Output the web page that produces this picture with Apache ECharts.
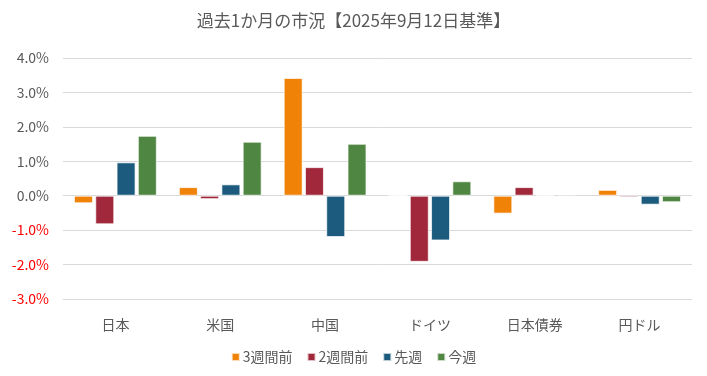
<!DOCTYPE html>
<html>
<head>
<meta charset="utf-8">
<script src="https://cdn.jsdelivr.net/npm/echarts@6/dist/echarts.min.js"></script>
<style>
  html, body { margin: 0; padding: 0; background: #fff; }
  #chart { width: 707px; height: 376px; }
</style>
</head>
<body>
<div id="chart"></div>
<script>
// 市場区分
const categories = ['日本', '米国', '中国', 'ドイツ', '日本債券', '円ドル']
const seriesNames = ['3週間前', '2週間前', '先週', '今週']

// 騰落率 (%)
const week3Ago = [-0.22, 0.25, 3.42, 0.0, -0.52, 0.17]
const week2Ago = [-0.83, -0.10, 0.83, -1.92, 0.25, -0.05]
const lastWeek = [0.97, 0.33, -1.20, -1.30, 0.03, -0.26]
const thisWeek = [1.74, 1.57, 1.51, 0.42, -0.03, -0.19]

const colors = ['#F08208', '#A0283A', '#1C5A7E', '#4F8742']
const font = '"Noto Sans CJK JP", "Noto Sans", sans-serif'

const chart = echarts.init(document.getElementById('chart'))

const makeSeries = (name, data, color) => ({
  name: name,
  type: 'bar',
  data: data,
  barWidth: 19,
  barGap: '12%',
  itemStyle: {
    color: color,
    borderColor: 'rgba(255,255,255,0.7)',
    borderWidth: 1
  }
})

const option = {
  animation: false,
  title: {
    text: '過去1か月の市況【2025年9月12日基準】',
    left: 'center',
    top: 7,
    textStyle: {
      fontFamily: font,
      fontSize: 17,
      fontWeight: 'normal',
      color: '#595959'
    }
  },
  legend: {
    data: seriesNames,
    bottom: 7,
    left: 'center',
    itemWidth: 8,
    itemHeight: 8,
    itemGap: 14,
    icon: 'rect',
    textStyle: {
      fontFamily: font,
      fontSize: 14,
      color: '#595959',
      padding: [0, 0, 0, -2]
    }
  },
  grid: {
    left: 63,
    right: 15,
    top: 58,
    bottom: 77,
    containLabel: false
  },
  xAxis: {
    type: 'category',
    data: categories,
    axisLine: { show: false },
    axisTick: { show: false },
    axisLabel: {
      fontFamily: font,
      fontSize: 14,
      color: '#595959',
      margin: 19
    }
  },
  yAxis: {
    type: 'value',
    min: -3,
    max: 4,
    interval: 1,
    axisLine: { show: false },
    axisTick: { show: false },
    splitLine: { lineStyle: { color: '#d9d9d9', width: 1 } },
    axisLabel: {
      fontFamily: font,
      fontSize: 14,
      margin: 14,
      formatter: (v) => v.toFixed(1) + '%',
      color: (v) => (parseFloat(v) < 0 ? '#FF0000' : '#595959')
    }
  },
  series: [
    makeSeries(seriesNames[0], week3Ago, colors[0]),
    makeSeries(seriesNames[1], week2Ago, colors[1]),
    makeSeries(seriesNames[2], lastWeek, colors[2]),
    makeSeries(seriesNames[3], thisWeek, colors[3])
  ]
}

chart.setOption(option)
</script>
</body>
</html>
